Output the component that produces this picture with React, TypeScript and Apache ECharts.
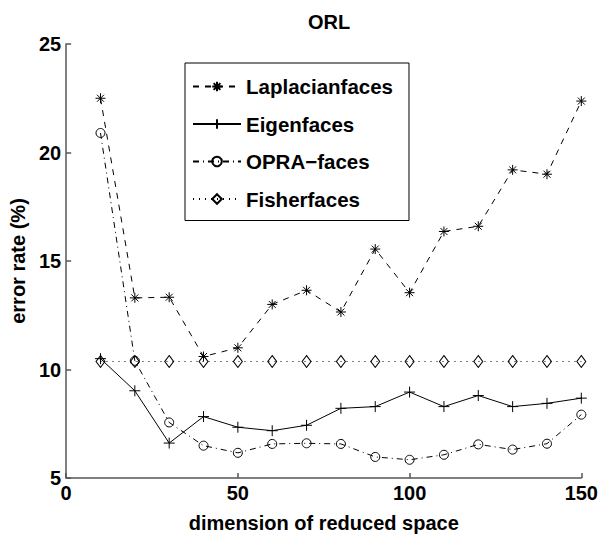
import React, { useEffect, useRef } from "react";
import * as echarts from "echarts";

const dims = [10, 20, 30, 40, 50, 60, 70, 80, 90, 100, 110, 120, 130, 140, 150];
const laplacian = [22.5, 13.3, 13.33, 10.6, 11.0, 13.0, 13.65, 12.65, 15.55, 13.54, 16.36, 16.6, 19.2, 19.0, 22.37];
const eigen = [10.5, 9.02, 6.61, 7.83, 7.34, 7.18, 7.43, 8.21, 8.29, 8.96, 8.29, 8.8, 8.29, 8.44, 8.68];
const opra = [20.9, 10.4, 7.56, 6.49, 6.16, 6.57, 6.6, 6.57, 5.97, 5.84, 6.07, 6.55, 6.31, 6.58, 7.92];
const fisher = [10.37, 10.37, 10.37, 10.37, 10.37, 10.37, 10.37, 10.37, 10.37, 10.37, 10.37, 10.37, 10.37, 10.37, 10.37];
const seriesNames = ["Laplacianfaces", "Eigenfaces", "OPRA\u2212faces", "Fisherfaces"];
const xTicks = { min: 0, max: 150, interval: 50 };
const yTicks = { min: 5, max: 25, interval: 5 };

const FONT = "'Liberation Sans', Arial, Helvetica, sans-serif";
const STAR = "path://M5,0L5,10M0,5L10,5M1.5,1.5L8.5,8.5M1.5,8.5L8.5,1.5";
const PLUS = "path://M5,0L5,10M0,5L10,5";

function pts(vals: number[]) {
  return dims.map((d, i) => [d, vals[i]]);
}

export default function App() {
  const ref = useRef<HTMLDivElement>(null);
  useEffect(() => {
    document.body.style.margin = "0";
    const chart = echarts.init(ref.current!, undefined, { renderer: "svg" });
    const symStyle = { color: "rgba(0,0,0,0)", borderColor: "#000", borderWidth: 1 };
    const axisLine = { show: true, lineStyle: { color: "#555", width: 1.5 } };
    const axisTick = { show: true, inside: true, length: 5, lineStyle: { color: "#555", width: 1.5 } };
    const label = { fontFamily: FONT, fontWeight: "bold" as const, fontSize: 20, color: "#000" };
    chart.setOption({
      animation: false,
      backgroundColor: "#fff",
      title: {
        text: "ORL",
        left: 324,
        textAlign: "center",
        top: 7,
        textStyle: { fontFamily: FONT, fontWeight: "bold", fontSize: 20, color: "#000" },
      },
      grid: { left: 64, right: 17, top: 44, bottom: 56 },
      legend: {
        orient: "vertical",
        left: 185,
        top: 63,
        backgroundColor: "#fff",
        borderColor: "#000",
        borderWidth: 1,
        padding: [13, 16, 11, 7],
        itemWidth: 48,
        itemHeight: 12,
        itemGap: 16.5,
        textStyle: { fontFamily: FONT, fontWeight: "bold", fontSize: 20.5, color: "#000" },
        data: seriesNames,
      },
      xAxis: {
        type: "value",
        ...xTicks,
        name: "dimension of reduced space",
        nameLocation: "middle",
        nameGap: 35,
        nameTextStyle: label,
        axisLine,
        axisTick,
        axisLabel: { ...label, margin: 5 },
        splitLine: { show: false },
      },
      yAxis: {
        type: "value",
        ...yTicks,
        name: "error rate (%)",
        nameLocation: "middle",
        nameGap: 34,
        nameTextStyle: label,
        axisLine,
        axisTick,
        axisLabel: { ...label, margin: 5 },
        splitLine: { show: false },
      },
      series: [
        {
          name: seriesNames[0],
          type: "line",
          data: pts(laplacian),
          symbol: STAR,
          symbolSize: 10,
          itemStyle: symStyle,
          lineStyle: { color: "#000", width: 1, type: [6, 6] },
          z: 4,
        },
        {
          name: seriesNames[1],
          type: "line",
          data: pts(eigen),
          symbol: PLUS,
          symbolSize: 11,
          itemStyle: symStyle,
          lineStyle: { color: "#000", width: 1, type: "solid" },
          z: 3,
        },
        {
          name: seriesNames[2],
          type: "line",
          data: pts(opra),
          symbol: "circle",
          symbolSize: 9,
          itemStyle: symStyle,
          lineStyle: { color: "#000", width: 1, type: [6, 4, 1, 4] },
          z: 2,
        },
        {
          name: seriesNames[3],
          type: "line",
          data: pts(fisher),
          symbol: "diamond",
          symbolSize: [9, 12],
          itemStyle: symStyle,
          lineStyle: { color: "#000", width: 1, type: [1, 5] },
          z: 1,
        },
      ],
    });
    return () => chart.dispose();
  }, []);
  return <div ref={ref} style={{ width: 601, height: 538 }} />;
}
